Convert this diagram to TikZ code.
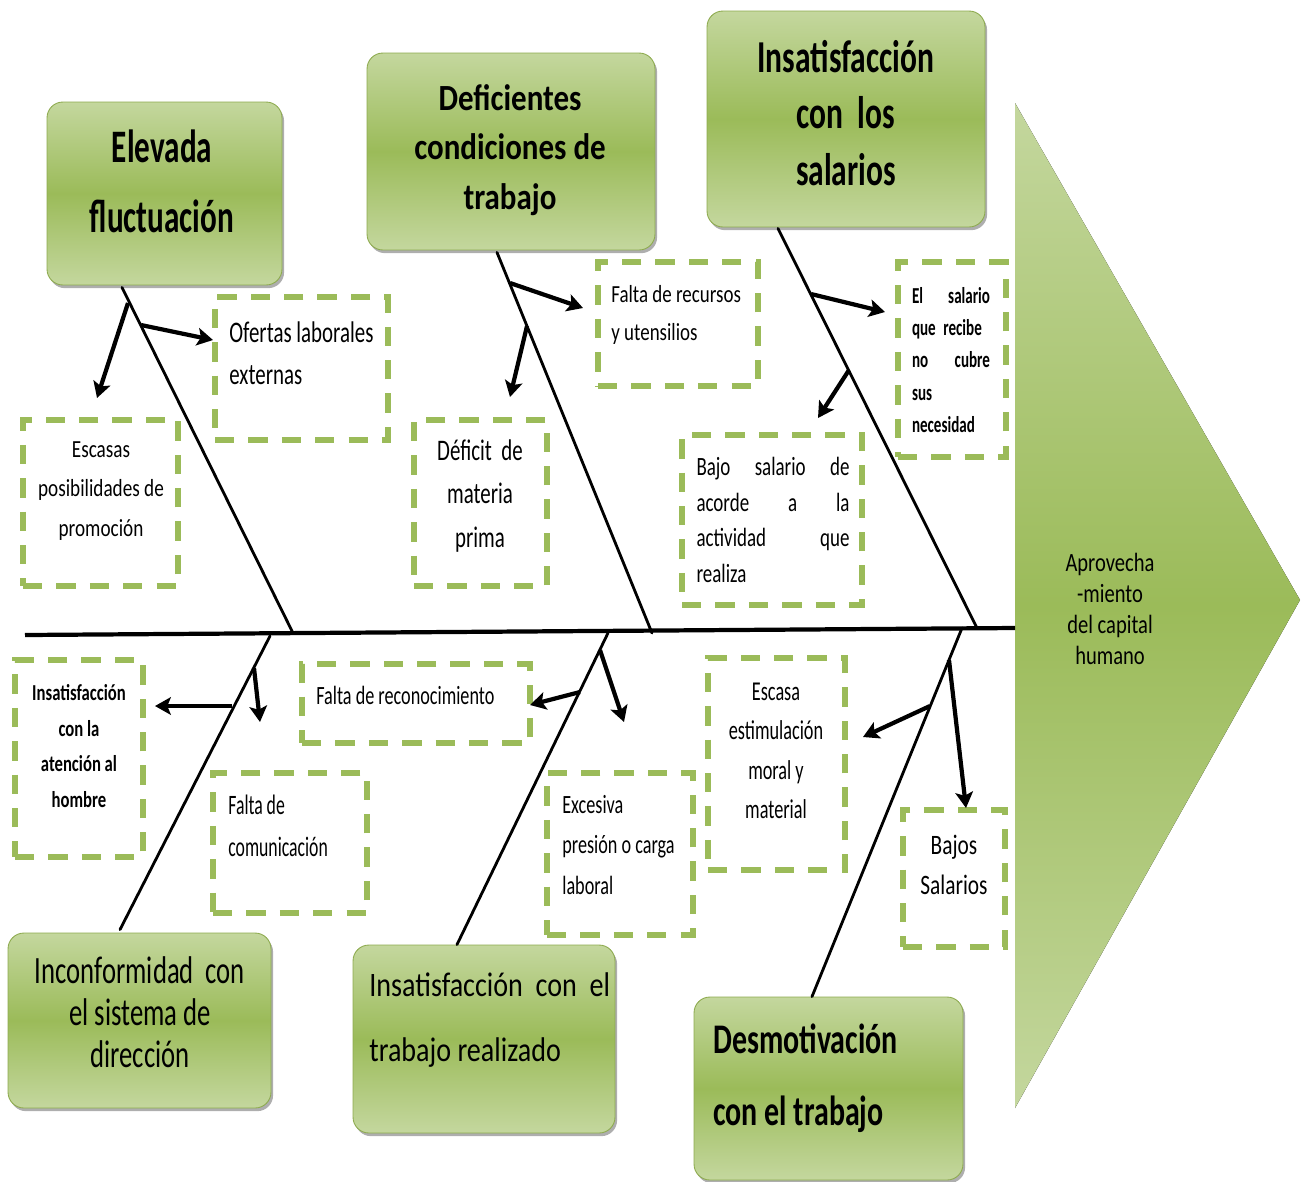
\documentclass[tikz,border=0pt]{standalone}
\usepackage{fontspec}
\setmainfont{Carlito}
\usetikzlibrary{arrows.meta,shadows,calc}
\definecolor{glight}{HTML}{C4D79E}
\definecolor{gdark}{HTML}{9BBB59}
\definecolor{gborder}{HTML}{8DAA4E}
\definecolor{dgreen}{HTML}{9BBB59}
\newcommand{\ff}[3]{\fontsize{#1}{#2}\selectfont\addfontfeature{FakeStretch=#3}}
\begin{document}
\begin{tikzpicture}[x=0.02cm,y=-0.02cm,
  gbox/.style={rounded corners=9pt, draw=gborder, line width=0.5pt,
    top color=glight, bottom color=glight, middle color=gdark,
    drop shadow={shadow xshift=1.2pt, shadow yshift=-1.8pt, opacity=0.45, fill=black!70}},
  dbox/.style={draw=dgreen, line width=3pt, dash pattern=on 11pt off 8pt, inner sep=0},
  txt/.style={inner sep=0, text=black},
  bone/.style={line width=1.6pt, line cap=round},
  spine/.style={line width=2.4pt},
  sub/.style={line width=2.4pt, -{Stealth[length=9pt,width=10pt,inset=2pt]}}]
\useasboundingbox (0,0) rectangle (1301,1181);

% head of the fish
\fill[top color=glight, bottom color=glight, middle color=gdark] (1015,103) -- (1300,600) -- (1015,1108) -- cycle;
\node[txt, align=center, font={\ff{15pt}{17.6pt}{0.78}}] (head) at (1110,609) {Aprovecha\\-miento\\del capital\\humano};

% spine
\coordinate (sp0) at (25,635);
\coordinate (sp1) at (1015,628);
\draw[spine] (sp0) -- (sp1);

% main boxes
\node[gbox, minimum width=4.70cm, minimum height=3.66cm] (g1) at (164.5,193.5) {};
\node[gbox, minimum width=5.76cm, minimum height=3.94cm] (g2) at (511,151.5) {};
\node[gbox, minimum width=5.56cm, minimum height=4.32cm] (g3) at (846,119) {};
\node[gbox, minimum width=5.26cm, minimum height=3.50cm] (g4) at (139.5,1020.5) {};
\node[gbox, minimum width=5.24cm, minimum height=3.76cm] (g5) at (484,1039) {};
\node[gbox, minimum width=5.38cm, minimum height=3.66cm] (g6) at (828.5,1088.5) {};

\node[txt, align=center, font={\bfseries\ff{26.5pt}{40pt}{0.67}}] (t1) at (162,181) {Elevada\\fluctuación};
\node[txt, align=center, font={\bfseries\ff{21pt}{28pt}{0.84}}] (t2) at (510,150) {Deficientes\\condiciones de\\trabajo};
\node[txt, align=center, font={\bfseries\ff{26pt}{32pt}{0.69}}] (t3) at (846,113) {Insatisfacción\\con\ \ los\\salarios};
\node[txt, align=center, font={\ff{22pt}{24pt}{0.69}}] (t4) at (140,1012) {Inconformidad\ \ con\\el sistema de\\dirección};
\node[txt, align=left, anchor=west, font={\ff{19.5pt}{37pt}{0.82}}] (t5) at (369,1020) {Insatisfacción\ \ con\ \ el\\trabajo realizado};
\node[txt, align=left, anchor=west, font={\bfseries\ff{24pt}{41pt}{0.71}}] (t6) at (713,1078) {Desmotivación\\con el trabajo};

% dashed boxes
\node[dbox, minimum width=3.46cm, minimum height=2.86cm] (d1) at (301.5,368.5) {};
\node[dbox, minimum width=3.10cm, minimum height=3.32cm] (d2) at (100.5,503) {};
\node[dbox, minimum width=3.20cm, minimum height=2.48cm] (d3) at (678,324) {};
\node[dbox, minimum width=2.66cm, minimum height=3.32cm] (d4) at (480.5,503) {};
\node[dbox, minimum width=2.16cm, minimum height=3.90cm] (d5) at (952,359.5) {};
\node[dbox, minimum width=3.60cm, minimum height=3.40cm] (d6) at (772,520) {};
\node[dbox, minimum width=2.56cm, minimum height=3.94cm] (d7) at (79,758.5) {};
\node[dbox, minimum width=4.56cm, minimum height=1.58cm] (d8) at (416,703.5) {};
\node[dbox, minimum width=3.08cm, minimum height=2.80cm] (d9) at (290,843) {};
\node[dbox, minimum width=2.92cm, minimum height=3.24cm] (d10) at (620,854) {};
\node[dbox, minimum width=2.74cm, minimum height=4.24cm] (d11) at (776.5,764) {};
\node[dbox, minimum width=2.04cm, minimum height=2.74cm] (d12) at (954,878.5) {};

\node[txt, align=left, anchor=west, font={\ff{17pt}{24pt}{0.70}}] (e1) at (229,353) {Ofertas laborales\\externas};
\node[txt, align=center, font={\ff{14pt}{22.7pt}{0.78}}] (e2) at (101,491) {Escasas\\posibilidades de\\promoción};
\node[txt, align=left, anchor=west, font={\ff{14pt}{21.5pt}{0.77}}] (e3) at (611,315) {Falta de recursos\\y utensilios};
\node[txt, align=center, font={\ff{17pt}{25pt}{0.70}}] (e4) at (480,496) {Déficit\ \ de\\materia\\prima};
\node[txt, text width=1.56cm, align=left, font={\bfseries\ff{13pt}{18.4pt}{0.66}}] (e5) at (951,360) {El\hfill salario\\\mbox{que recibe}\\no\hfill cubre\\sus\\necesidad};
\node[txt, text width=3.06cm, align=left, font={\ff{15pt}{20.4pt}{0.72}}] (e6) at (773,520) {Bajo\hfill salario\hfill de\\acorde\hfill a\hfill la\\actividad\hfill que\\realiza};
\node[txt, align=center, font={\bfseries\ff{13pt}{20.2pt}{0.73}}] (e7) at (79,746) {Insatisfacción\\con la\\atención al\\hombre};
\node[txt, anchor=west, font={\ff{15pt}{18pt}{0.69}}] (e8) at (316,695) {Falta de reconocimiento};
\node[txt, align=left, anchor=west, font={\ff{16pt}{24pt}{0.63}}] (e9) at (228,826) {Falta de\\comunicación};
\node[txt, align=left, anchor=west, font={\ff{15pt}{23pt}{0.69}}] (e10) at (562,845) {Excesiva\\presión o carga\\laboral};
\node[txt, align=center, font={\ff{15.5pt}{22.5pt}{0.67}}] (e11) at (776,751) {Escasa\\estimulación\\moral y\\material};
\node[txt, align=center, font={\ff{16pt}{23pt}{0.76}}] (e12) at (954,865) {Bajos\\Salarios};

% bones
\coordinate (b1e) at (293,633);
\coordinate (b2e) at (652,633);
\coordinate (b3e) at (977,628);
\coordinate (b4s) at (270,636);
\coordinate (b5s) at (608,633);
\coordinate (b6s) at (962,628);
\draw[bone] ($(g1.south)+(-42.5,2)$) -- (b1e);
\draw[bone] ($(g2.south)+(-14,2)$) -- (b2e);
\draw[bone] ($(g3.south)+(-68,1)$) -- (b3e);
\draw[bone] (b4s) -- ($(g4.north)+(-19.5,-3)$);
\draw[bone] (b5s) -- ($(g5.north)+(-27,0)$);
\draw[bone] (b6s) -- ($(g6.north)+(-16.5,0)$);

% sub arrows
\coordinate (a1s) at (128,303); \coordinate (a1e) at (97,398);
\coordinate (a2s) at (141,325); \coordinate (a2e) at (213,340);
\coordinate (a3s) at (510,283); \coordinate (a3e) at (583,308);
\coordinate (a4s) at (527,326); \coordinate (a4e) at (510,397);
\coordinate (a5s) at (811,294); \coordinate (a5e) at (885,312);
\coordinate (a6s) at (849,370); \coordinate (a6e) at (818,418);
\coordinate (a7s) at (232,706); \coordinate (a7e) at (155,706);
\coordinate (a8s) at (254,668); \coordinate (a8e) at (260,722);
\coordinate (a9s) at (580,692); \coordinate (a9e) at (530,705);
\coordinate (a10s) at (600,650); \coordinate (a10e) at (624,722);
\coordinate (a11s) at (930,706); \coordinate (a11e) at (863,737);
\coordinate (a12s) at (949,660); \coordinate (a12e) at (966,808);
\foreach \i in {1,...,12} {\draw[sub] (a\i s) -- (a\i e);}
\end{tikzpicture}
\end{document}
